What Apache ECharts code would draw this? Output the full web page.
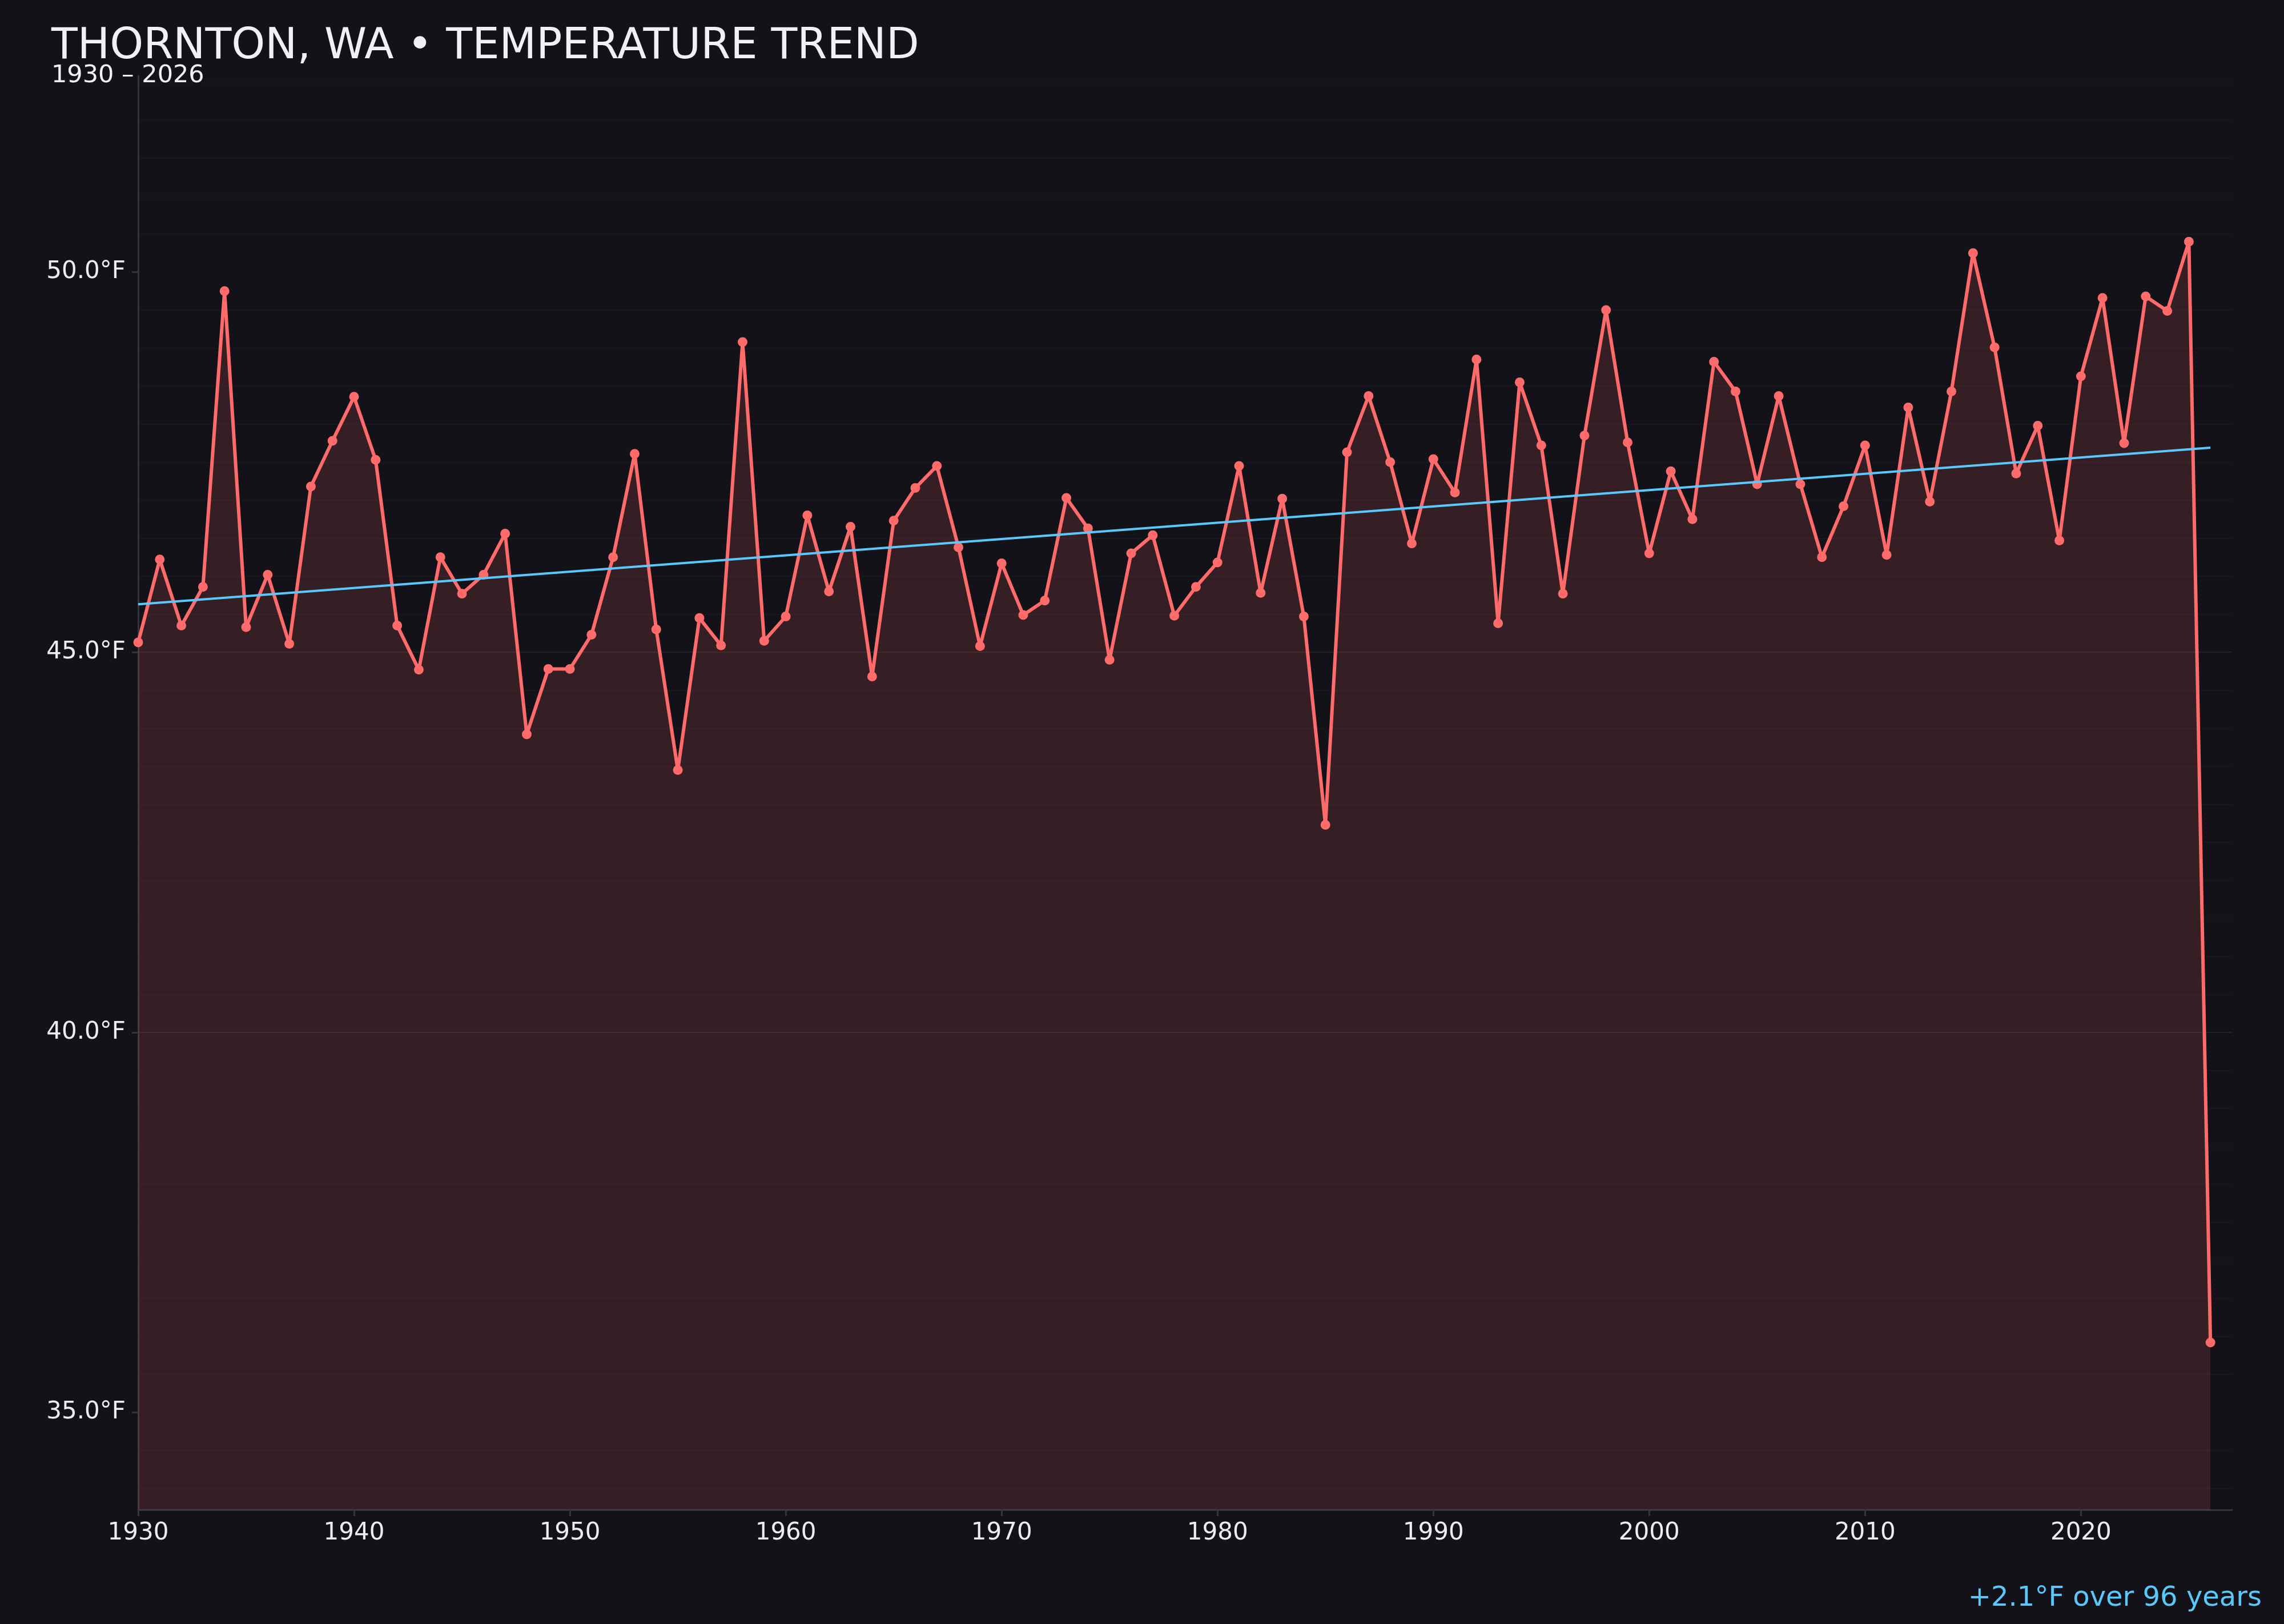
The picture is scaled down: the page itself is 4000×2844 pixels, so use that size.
<!DOCTYPE html>
<html>
<head>
    <meta charset="utf-8">
    <script src="https://cdn.jsdelivr.net/npm/echarts@6.0.0/dist/echarts.min.js"></script>
    <style>
        * { margin: 0; padding: 0; box-sizing: border-box; }
        body { background: #121218; }
        #chart { width: 4000px; height: 2844px; }
    </style>
</head>
<body>
    <div id="chart"></div>

    <script>
        // yearly mean temperature, 1930 - 2026
        const startYear = 1930;
        const temps = [
            45.13, 46.22, 45.35, 45.86, 49.75, 45.33, 46.02, 45.11, 47.18, 47.78,
            48.36, 47.53, 45.35, 44.77, 46.25, 45.77, 46.02, 46.56, 43.92, 44.78,
            44.78, 45.23, 46.25, 47.61, 45.30, 43.45, 45.45, 45.09, 49.08, 45.15,
            45.47, 46.80, 45.80, 46.65, 44.68, 46.73, 47.16, 47.45, 46.38, 45.08,
            46.17, 45.49, 45.68, 47.03, 46.63, 44.90, 46.30, 46.54, 45.48, 45.86,
            46.18, 47.45, 45.78, 47.02, 45.47, 42.73, 47.63, 48.37, 47.50, 46.43,
            47.54, 47.10, 48.85, 45.38, 48.55, 47.72, 45.77, 47.85, 49.50, 47.76,
            46.30, 47.38, 46.75, 48.82, 48.43, 47.21, 48.37, 47.21, 46.25, 46.92,
            47.72, 46.28, 48.22, 46.98, 48.43, 50.25, 49.01, 47.35, 47.98, 46.47,
            48.63, 49.66, 47.75, 49.68, 49.49, 50.40, 35.92
        ];
        const years = temps.map((_, i) => startYear + i);

        // trend line end points
        const trendYears = [1930, 2026];
        const trendTemps = [45.63, 47.69];

        const xTicks = [1930, 1940, 1950, 1960, 1970, 1980, 1990, 2000, 2010, 2020];
        const yTicks = [35, 40, 45, 50];
        const yMin = 33.72;
        const yMax = 52.58;

        const titleText = 'THORNTON, WA • TEMPERATURE TREND';
        const subText = '1930 – 2026';
        const noteText = '+2.1°F over 96 years';

        const FONT = 'DejaVu Sans';
        const axisColor = '#34343e';
        const labelColor = '#ececf1';

        const chart = echarts.init(document.getElementById('chart'));

        chart.setOption({
            backgroundColor: '#121218',
            animation: false,
            textStyle: { fontFamily: FONT },
            title: [
                {
                    text: titleText,
                    left: 90, top: 45, padding: 0,
                    textStyle: { color: '#f0f0f5', fontSize: 75, fontWeight: 'normal', fontFamily: FONT }
                },
                {
                    text: subText,
                    left: 90, top: 111, padding: 0,
                    textStyle: { color: '#f0f0f5', fontSize: 43, fontWeight: 'normal', fontFamily: FONT }
                }
            ],
            grid: { left: 242, right: 91, top: 133, bottom: 200, containLabel: false, outerBoundsMode: 'none' },
            xAxis: {
                type: 'value',
                min: 1930,
                max: 2027,
                minInterval: 10,
                maxInterval: 10,
                axisLine: { show: true, onZero: false, lineStyle: { color: axisColor, width: 3 } },
                axisTick: { show: true, length: 11, customValues: xTicks, lineStyle: { color: axisColor, width: 3 } },
                axisLabel: {
                    customValues: xTicks,
                    formatter: v => String(v),
                    color: labelColor,
                    fontSize: 42,
                    fontFamily: FONT,
                    margin: 20
                },
                splitLine: { show: false }
            },
            yAxis: {
                type: 'value',
                min: yMin,
                max: yMax,
                minInterval: 5,
                maxInterval: 5,
                axisLine: { show: true, lineStyle: { color: axisColor, width: 3 } },
                axisTick: { show: true, length: 11, customValues: yTicks, lineStyle: { color: axisColor, width: 3 } },
                axisLabel: {
                    customValues: yTicks,
                    formatter: v => v.toFixed(1) + '°F',
                    color: labelColor,
                    fontSize: 42,
                    fontFamily: FONT,
                    margin: 22
                },
                splitLine: {
                    show: true, showMinLine: false, showMaxLine: false,
                    lineStyle: { color: 'rgba(255,255,255,0.07)', width: 2 }
                },
                minorTick: { show: false, splitNumber: 10 },
                minorSplitLine: { show: true, lineStyle: { color: 'rgba(255,255,255,0.022)', width: 2 } }
            },
            series: [
                {
                    type: 'line',
                    data: years.map((y, i) => [y, temps[i]]),
                    symbol: 'circle',
                    symbolSize: 17,
                    itemStyle: { color: '#ff6b6b' },
                    lineStyle: { color: '#ff6b6b', width: 6 },
                    areaStyle: { color: '#ff6b6b', opacity: 0.15, origin: 'start' },
                    z: 3
                },
                {
                    type: 'line',
                    data: trendYears.map((y, i) => [y, trendTemps[i]]),
                    symbol: 'none',
                    lineStyle: { color: '#5ac8fa', width: 4 },
                    z: 4
                }
            ],
            graphic: [
                {
                    type: 'text',
                    right: 39,
                    top: 2776,
                    style: {
                        text: noteText,
                        fill: '#5ac8fa',
                        font: '48px "DejaVu Sans"'
                    }
                }
            ]
        });
    </script>
</body>
</html>
